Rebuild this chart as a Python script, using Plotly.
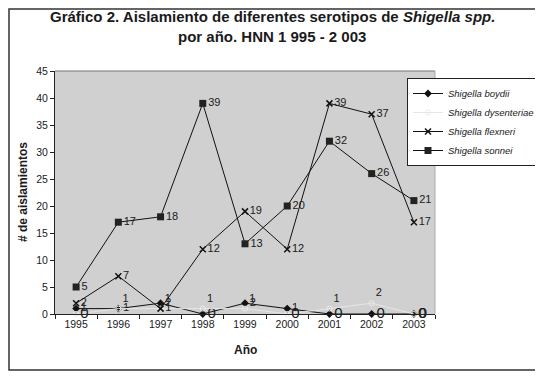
import plotly.graph_objects as go

years = ["1995", "1996", "1997", "1998", "1999", "2000", "2001", "2002", "2003"]
boydii = [1, 1, 2, 0, 2, 1, 0, 0, 0]
dysenteriae = [0, 1, 1, 1, 1, 0, 1, 2, 0]
flexneri = [2, 7, 1, 12, 19, 12, 39, 37, 17]
sonnei = [5, 17, 18, 39, 13, 20, 32, 26, 21]
y_ticks = [0, 5, 10, 15, 20, 25, 30, 35, 40, 45]

FONT = "Liberation Sans, Arial, sans-serif"
OFF = 8  # page body margin offset
TXT = "#1a1a1a"

def zero_big(vals, big=15, small=11):
    return [big if v == 0 else small for v in vals]

fig = go.Figure()
fig.add_trace(go.Scatter(
    x=years, y=boydii, name="<i>Shigella boydii</i>", mode="lines+markers+text",
    line=dict(color="#111", width=1), marker=dict(symbol="diamond", size=6, color="#111"),
    text=[str(v) for v in boydii], textposition="middle right",
    textfont=dict(size=zero_big(boydii), color=TXT, family=FONT), cliponaxis=False))
fig.add_trace(go.Scatter(
    x=years, y=dysenteriae, name="<i>Shigella dysenteriae</i>", mode="lines+markers+text",
    line=dict(color="#e6e6e6", width=1), marker=dict(symbol="circle-open", size=5, color="#ececec"),
    text=[str(v) for v in dysenteriae],
    textposition=["middle right" if v == 0 else "top right" for v in dysenteriae],
    textfont=dict(size=zero_big(dysenteriae), color=TXT, family=FONT), cliponaxis=False))
fig.add_trace(go.Scatter(
    x=years, y=flexneri, name="<i>Shigella flexneri</i>", mode="lines+markers+text",
    line=dict(color="#111", width=1),
    marker=dict(symbol="x-thin", size=6, color="#111", line=dict(width=1.5, color="#111")),
    text=[str(v) for v in flexneri], textposition="middle right",
    textfont=dict(size=11, color=TXT, family=FONT), cliponaxis=False))
fig.add_trace(go.Scatter(
    x=years, y=sonnei, name="<i>Shigella sonnei</i>", mode="lines+markers+text",
    line=dict(color="#111", width=1), marker=dict(symbol="square", size=7, color="#222"),
    text=[str(v) for v in sonnei], textposition="middle right",
    textfont=dict(size=11, color=TXT, family=FONT), cliponaxis=False))

W, H = 543, 377
# target plot area in screen pixels: x 55..435, y 71..314
L = 55 - OFF
T = 71 - OFF
pw, ph = 380, 243
R = W - L - pw
B = H - T - ph

def px_x(p):
    return (p - OFF - L) / pw

def px_y(p):
    return (T + ph - (p - OFF)) / ph

fig.update_layout(
    width=W, height=H, margin=dict(l=L, r=R, t=T, b=B, autoexpand=False),
    paper_bgcolor="white", plot_bgcolor="#d0d0d0",
    font=dict(family=FONT, size=11, color=TXT),
    showlegend=True,
    legend=dict(x=px_x(407), y=px_y(78), xanchor="left", yanchor="top",
                bgcolor="white", bordercolor="#222", borderwidth=1,
                font=dict(size=9.5, color=TXT, family=FONT), itemwidth=30,
                tracegroupgap=0),
    xaxis=dict(type="category", categoryorder="array", categoryarray=years,
               range=[-0.5, 8.5], tickson="boundaries", ticks="outside", ticklen=4,
               tickcolor="#222", showline=True, linecolor="#222", linewidth=1,
               showgrid=False, zeroline=False, tickfont=dict(size=10.5), automargin=False),
    yaxis=dict(range=[0, 45], tickvals=y_ticks, ticks="outside", ticklen=4,
               tickcolor="#222", showline=True, linecolor="#222", linewidth=1,
               showgrid=False, zeroline=False, tickfont=dict(size=10.5), automargin=False),
    annotations=[
        dict(text="<b>Gráfico 2. Aislamiento de diferentes serotipos de <i>Shigella spp.</i></b>",
             x=px_x(272), y=px_y(17), xref="paper", yref="paper", xanchor="center",
             yanchor="middle", showarrow=False, font=dict(size=15, color=TXT)),
        dict(text="<b>por año. HNN 1 995 - 2 003</b>",
             x=px_x(272), y=px_y(36), xref="paper", yref="paper", xanchor="center",
             yanchor="middle", showarrow=False, font=dict(size=15, color=TXT)),
        dict(text="<b># de aislamientos</b>", textangle=-90, x=px_x(23), y=px_y(192),
             xref="paper", yref="paper", xanchor="center", yanchor="middle",
             showarrow=False, font=dict(size=12, color=TXT)),
        dict(text="<b>Año</b>", x=px_x(245), y=px_y(350), xref="paper", yref="paper",
             xanchor="center", yanchor="middle",
             showarrow=False, font=dict(size=12, color=TXT)),
    ],
    shapes=[
        dict(type="line", xref="paper", yref="paper", x0=0, x1=1, y0=1, y1=1,
             line=dict(color="#777", width=1)),
        dict(type="line", xref="paper", yref="paper", x0=1, x1=1, y0=0, y1=1,
             line=dict(color="#aaa", width=1)),
        dict(type="rect", xref="paper", yref="paper", x0=px_x(OFF + 1), x1=px_x(539),
             y0=px_y(370), y1=px_y(OFF + 1), line=dict(color="#333", width=1.5), layer="below"),
    ],
)

fig.write_html("out.html")
